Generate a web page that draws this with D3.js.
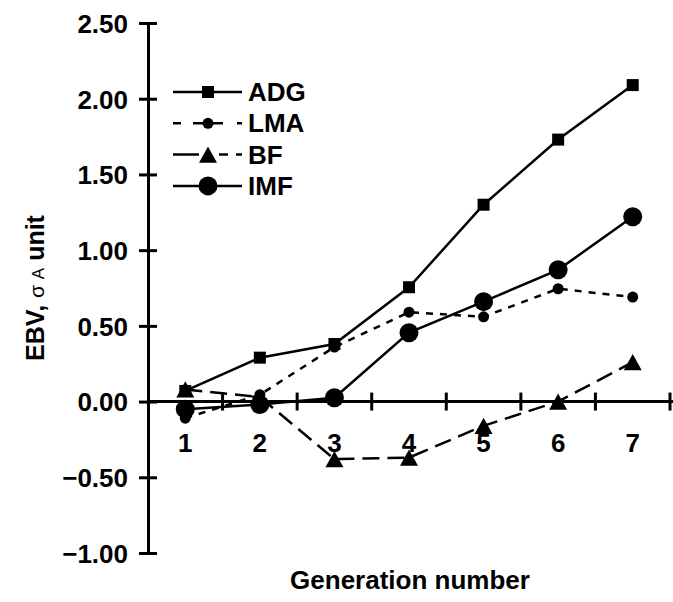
<!DOCTYPE html>
<meta charset="utf-8">
<head>
<style>
  body { margin: 0; background: #fff; }
  svg text { font-family: "Liberation Sans", Arial, sans-serif; font-weight: bold; fill: #000; }
</style>
</head>
<body>
<svg id="chart"></svg>
<script src="https://d3js.org/d3.v7.min.js"></script>
<script>

var generations = [1, 2, 3, 4, 5, 6, 7];
var ADG = [0.07, 0.29, 0.38, 0.755, 1.30, 1.73, 2.09];
var LMA = [-0.11, 0.045, 0.36, 0.59, 0.56, 0.745, 0.69];
var BF  = [0.08, 0.03, -0.38, -0.37, -0.16, 0.00, 0.26];
var IMF = [-0.05, -0.02, 0.025, 0.455, 0.66, 0.87, 1.22];
var yTicks = [-1.00, -0.50, 0.00, 0.50, 1.00, 1.50, 2.00, 2.50];

var series = [
  {name: "ADG", values: ADG, dash: null,   legendDash: null,               marker: "square",   size: 12},
  {name: "LMA", values: LMA, dash: "7,7",  legendDash: "8,12,30,14,8",     marker: "circle",   size: 5.5},
  {name: "BF",  values: BF,  dash: "17,8", legendDash: "26,20,9,8,10,20",  marker: "triangle", size: 18},
  {name: "IMF", values: IMF, dash: null,   legendDash: null,               marker: "circle",   size: 9.5}
];

var W = 673, H = 602;
var FS = "26px";

var svg = d3.select("#chart")
    .attr("width", W)
    .attr("height", H);

var x = d3.scaleBand()
    .domain(generations)
    .range([148, 670]);

var y = d3.scaleLinear()
    .domain([-1, 2.5])
    .range([553, 23]);

// y axis
var yAxis = d3.axisLeft(y)
    .tickValues(yTicks)
    .tickFormat(d3.format(".2f"))
    .tickSizeInner(8)
    .tickSizeOuter(0)
    .tickPadding(12);

var gy = svg.append("g")
    .attr("transform", "translate(148,0)")
    .call(yAxis);
gy.select(".domain").attr("stroke", "#000").attr("stroke-width", 3);
gy.selectAll(".tick line").attr("x1", 9).attr("x2", -9).attr("stroke", "#000").attr("stroke-width", 3);
gy.selectAll(".tick text")
    .attr("dy", "0.36em")
    .style("font-size", FS)
    .style("font-family", "'Liberation Sans', Arial, sans-serif")
    .style("font-weight", "bold");

// x axis at y = 0
var y0 = y(0);
svg.append("line")
    .attr("x1", 148).attr("x2", 673)
    .attr("y1", y0).attr("y2", y0)
    .attr("stroke", "#000").attr("stroke-width", 3);

svg.selectAll(".xtick")
    .data(generations)
  .enter().append("line")
    .attr("class", "xtick")
    .attr("x1", function(d) { return x(d) + x.step(); })
    .attr("x2", function(d) { return x(d) + x.step(); })
    .attr("y1", y0 - 9).attr("y2", y0 + 9)
    .attr("stroke", "#000").attr("stroke-width", 3);

svg.selectAll(".xlabel")
    .data(generations)
  .enter().append("text")
    .attr("class", "xlabel")
    .attr("x", function(d) { return x(d) + x.bandwidth() / 2; })
    .attr("y", y0 + 50)
    .attr("text-anchor", "middle")
    .style("font-size", FS)
    .text(function(d) { return d; });

// axis titles
svg.append("text")
    .attr("x", 410)
    .attr("y", 589)
    .attr("text-anchor", "middle")
    .style("font-size", FS)
    .text("Generation number");

var yt = svg.append("text")
    .attr("transform", "translate(44,288) rotate(-90)")
    .attr("text-anchor", "middle")
    .style("font-size", "25px");
yt.append("tspan").text("EBV, ");
yt.append("tspan").style("font-weight", "normal").style("font-size", "21px").text("σ ");
yt.append("tspan").style("font-weight", "normal").style("font-size", "17px").text("A");
yt.append("tspan").text(" unit");

// lines and markers
var line = d3.line()
    .x(function(d, i) { return x(generations[i]) + x.bandwidth() / 2; })
    .y(function(d) { return y(d); });

function drawMarker(g, type, size, cx, cy) {
  if (type === "square") {
    g.append("rect")
      .attr("x", cx - size / 2).attr("y", cy - size / 2)
      .attr("width", size).attr("height", size)
      .attr("fill", "#000");
  } else if (type === "circle") {
    g.append("circle")
      .attr("cx", cx).attr("cy", cy).attr("r", size)
      .attr("fill", "#000");
  } else {
    var h = size * 0.9;
    g.append("path")
      .attr("d", "M" + cx + "," + (cy - h / 2) + "L" + (cx + size / 2) + "," + (cy + h / 2) + "L" + (cx - size / 2) + "," + (cy + h / 2) + "Z")
      .attr("fill", "#000");
  }
}

series.forEach(function(s) {
  var g = svg.append("g");
  g.append("path")
    .datum(s.values)
    .attr("d", line)
    .attr("fill", "none")
    .attr("stroke", "#000")
    .attr("stroke-width", 2.5)
    .attr("stroke-dasharray", s.dash);
  s.values.forEach(function(v, i) {
    drawMarker(g, s.marker, s.size, x(generations[i]) + x.bandwidth() / 2, y(v));
  });
});

// legend
var legend = svg.append("g");
series.forEach(function(s, i) {
  var ly = 92 + i * 31.3;
  var g = legend.append("g");
  g.append("line")
    .attr("x1", 173).attr("x2", 242)
    .attr("y1", ly).attr("y2", ly)
    .attr("stroke", "#000").attr("stroke-width", 2.5)
    .attr("stroke-dasharray", s.legendDash);
  drawMarker(g, s.marker, s.size, 208, ly);
  g.append("text")
    .attr("x", 248).attr("y", ly + 9)
    .style("font-size", FS)
    .text(s.name);
});

</script>
</body>
